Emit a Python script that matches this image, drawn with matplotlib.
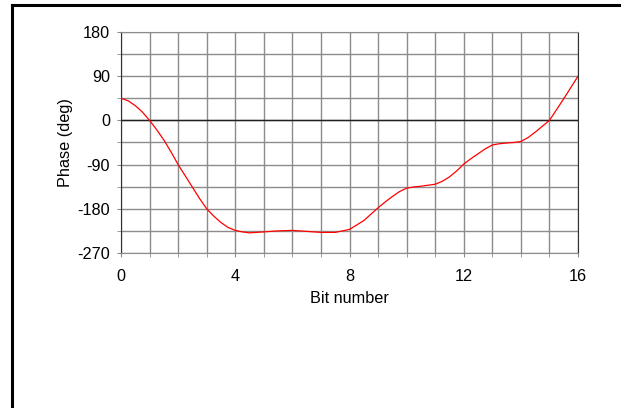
import numpy as np
import matplotlib.pyplot as plt
from matplotlib.lines import Line2D
from matplotlib.ticker import MultipleLocator

plt.rcParams['font.family'] = ['Liberation Sans', 'DejaVu Sans']

# phase vs bit number
bits = [0, 0.25, 0.5, 0.75, 1, 1.25, 1.5, 1.75, 2, 2.25, 2.5, 2.75, 3,
        3.25, 3.5, 3.75, 4, 4.25, 4.5, 5, 5.5, 6, 6.5, 7, 7.5, 8, 8.25,
        8.5, 8.75, 9, 9.25, 9.5, 9.75, 10, 10.25, 10.5, 10.75, 11, 11.25,
        11.5, 11.75, 12, 12.25, 12.5, 12.75, 13, 13.25, 13.5, 13.75, 14,
        14.25, 14.5, 14.75, 15, 15.25, 15.5, 15.75, 16]
phase = [45, 40, 30, 17, 0, -19, -40, -64, -90, -113, -136, -159, -180,
         -195, -208, -218, -224, -227, -229, -227, -225, -224, -226, -228,
         -228, -222, -213, -204, -191, -178, -166, -155, -145, -138, -135.5,
         -134, -132, -130, -124, -115, -103, -89, -78, -68, -58, -50, -47.5,
         -46, -45, -43, -35, -24, -12, 0, 22, 44, 67, 90]

xticks = [0, 4, 8, 12, 16]
yticks = [180, 90, 0, -90, -180, -270]

fig = plt.figure(figsize=(6.21, 4.08), dpi=100)
ax = fig.add_axes([121/621, 1-253/408, 457/621, 221/408])

ax.set_xlim(0, 16)
ax.set_ylim(-270, 180)
ax.xaxis.set_minor_locator(MultipleLocator(1))
ax.yaxis.set_minor_locator(MultipleLocator(45))
ax.set_xticks(xticks)
ax.set_yticks(yticks)
ax.set_xticklabels([str(t) for t in xticks])
ax.set_yticklabels([str(t) for t in yticks])

ax.grid(which='both', color='#8c8c8c', linewidth=1.0)
ax.axhline(0, color='#202020', linewidth=1.0, zorder=2)
ax.set_axisbelow(True)

ax.plot(bits, phase, color='red', linewidth=0.9, zorder=3)

ax.tick_params(which='both', direction='out', length=3, color='#8c8c8c',
               labelsize=11.7, pad=8.5)
ax.tick_params(axis='y', which='both', pad=5)
for s in ['left', 'right']:
    ax.spines[s].set_color('#303030')
for s in ['top', 'bottom']:
    ax.spines[s].set_color('#8c8c8c')

ax.set_xlabel('Bit number', fontsize=11.7, labelpad=5)
ax.set_ylabel('Phase (deg)', fontsize=11.7, labelpad=3)

# partial frame around the figure
fig.add_artist(Line2D([11.5/621, 11.5/621], [0, 1-4.5/408], color='black',
                      linewidth=2.2, transform=fig.transFigure))
fig.add_artist(Line2D([11.5/621, 1], [1-4.5/408, 1-4.5/408], color='black',
                      linewidth=2.2, transform=fig.transFigure))

fig.savefig('out.png', dpi=100)
